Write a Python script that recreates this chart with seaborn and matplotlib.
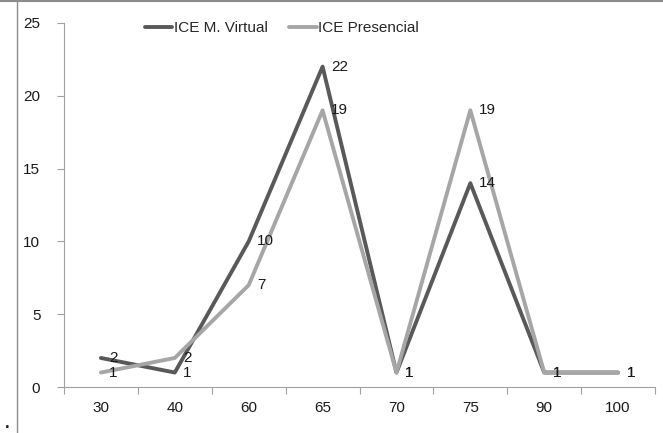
import pandas as pd
import matplotlib
matplotlib.use("Agg")
import matplotlib.pyplot as plt
from matplotlib.lines import Line2D
from matplotlib.ticker import FixedLocator
import seaborn as sns

# data
categories = ["30", "40", "60", "65", "70", "75", "90", "100"]
virtual = [2, 1, 10, 22, 1, 14, 1, 1]
presencial = [1, 2, 7, 19, 1, 19, 1, 1]
series_names = ["ICE M. Virtual", "ICE Presencial"]
y_ticks = [0, 5, 10, 15, 20, 25]

sns.set_style("white")
plt.rcParams["font.family"] = ["Liberation Sans", "DejaVu Sans"]

df = pd.DataFrame({
    "cat": categories * 2,
    "value": virtual + presencial,
    "serie": [series_names[0]] * len(categories) + [series_names[1]] * len(categories),
})
palette = {series_names[0]: "#595959", series_names[1]: "#a6a6a6"}
fs = 11

fig = plt.figure(figsize=(6.63, 4.33), dpi=100)
ax = fig.add_axes([0.0965, 0.106, 0.8915, 0.841])

sns.lineplot(data=df, x="cat", y="value", hue="serie", palette=palette,
             linewidth=2.8, sort=False, ax=ax, legend=False)

# data labels to the right of each point
for name, vals in zip(series_names, [virtual, presencial]):
    for i, v in enumerate(vals):
        ax.annotate(str(v), (i, v), xytext=(6, 0), textcoords="offset points",
                    va="center", ha="left", fontsize=fs, color="#1a1a1a")

ax.set_xlim(-0.5, len(categories) - 0.5)
ax.set_ylim(0, 25)
ax.set_yticks(y_ticks)
ax.set_xticks(range(len(categories)))
ax.set_xticklabels(categories)
ax.xaxis.set_minor_locator(FixedLocator([i - 0.5 for i in range(len(categories) + 1)]))
ax.tick_params(axis="x", which="major", bottom=True, length=0, pad=10,
               labelsize=fs, labelcolor="#1a1a1a")
ax.tick_params(axis="x", which="minor", bottom=True, length=5, color="#a0a0a0", width=0.8)
ax.tick_params(axis="y", left=True, length=5, color="#a0a0a0", width=0.8, pad=12,
               labelsize=fs, labelcolor="#1a1a1a")
ax.set_xlabel("")
ax.set_ylabel("")

for side in ["top", "right"]:
    ax.spines[side].set_visible(False)
for side in ["left", "bottom"]:
    ax.spines[side].set_color("#a0a0a0")
    ax.spines[side].set_linewidth(0.8)

handles = [Line2D([], [], color=palette[n], linewidth=2.8) for n in series_names]
fig.legend(handles, series_names, loc="center", bbox_to_anchor=(0.425, 0.935),
           ncol=2, frameon=False, fontsize=fs, handlelength=1.8,
           handletextpad=0.1, columnspacing=1.4)

# frame remnants from the original screenshot
fig.add_artist(Line2D([0, 1], [0.998, 0.998], color="#8c8c8c", linewidth=1.5,
                      transform=fig.transFigure))
fig.add_artist(Line2D([0.026, 0.026], [0, 1], color="#8c8c8c", linewidth=1.0,
                      transform=fig.transFigure))
fig.text(0.008, 0.012, ".", fontsize=12, fontweight="bold", color="#1a1a1a")

fig.savefig("out.png", dpi=100)
